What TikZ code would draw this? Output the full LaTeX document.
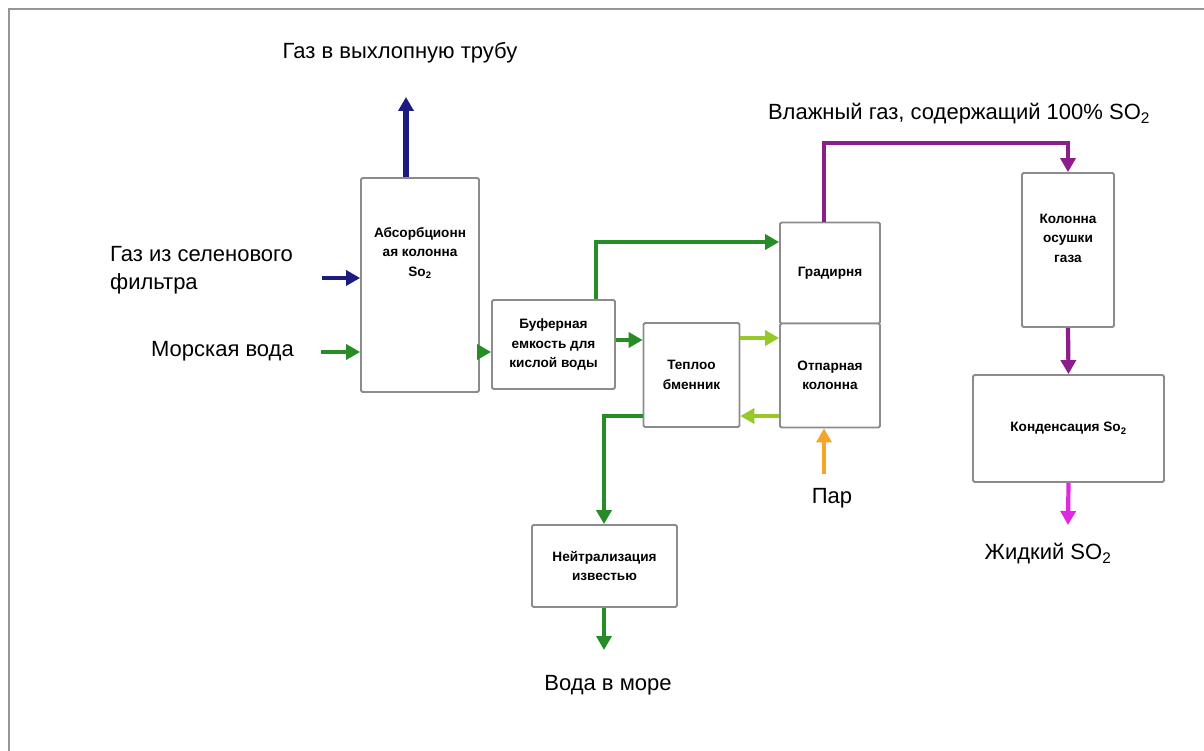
\documentclass[tikz,border=0pt]{standalone}
\usepackage{fontspec}
\setmainfont{Liberation Sans}
\usetikzlibrary{arrows.meta}
\definecolor{boxgray}{RGB}{140,140,140}
\definecolor{framegray}{RGB}{150,150,150}
\definecolor{navyc}{RGB}{28,28,128}
\definecolor{dgreen}{RGB}{38,140,38}
\definecolor{lgreen}{RGB}{150,200,40}
\definecolor{purp}{RGB}{140,30,140}
\definecolor{magc}{RGB}{225,40,225}
\definecolor{orangec}{RGB}{245,165,40}
\tikzset{
  box/.style={draw=boxgray, line width=1.8pt, rounded corners=1.5pt, fill=white, inner sep=0pt},
  boxtext/.style={font=\bfseries\fontsize{13.6}{19.5}\selectfont, align=center, inner sep=0pt},
  lbl/.style={font=\fontsize{22}{28}\selectfont, inner sep=0pt},
  flow/.style={line width=4.2pt, -{Triangle[length=14pt,width=15pt]}},
}
\begin{document}
\begin{tikzpicture}[x=1pt,y=-1pt]
\useasboundingbox (0,0) rectangle (1204,751);
\fill[white] (0,0) rectangle (1204,751);
\draw[framegray, line width=2pt] (9,751) -- (9,9) -- (1204,9);

% boxes
\node[box, minimum width=118pt, minimum height=214pt] (abs) at (420,285) {};
\node[boxtext] (abstxt) at (420,253) {Абсорбционн\\ая колонна\\So\textsubscript{2}};
\node[box, minimum width=123pt, minimum height=89pt, boxtext] (buf) at (553.5,344.5) {Буферная\\емкость для\\кислой воды};
\node[box, minimum width=96pt, minimum height=104pt, boxtext] (hx) at (691.5,375) {Теплоо\\бменник};
\node[box, minimum width=100pt, minimum height=101pt, boxtext] (grad) at (830,273) {Градирня};
\node[box, minimum width=100pt, minimum height=104pt, boxtext] (strip) at (830,375.5) {Отпарная\\колонна};
\node[box, minimum width=92pt, minimum height=154pt] (dry) at (1068,250) {};
\node[boxtext] (drytxt) at (1068,238) {Колонна\\осушки\\газа};
\node[box, minimum width=191pt, minimum height=107pt, boxtext] (cond) at (1068.5,428.5) {Конденсация So\textsubscript{2}};
\node[box, minimum width=145pt, minimum height=82pt, boxtext] (neut) at (604.5,566) {Нейтрализация\\известью};

% labels
\node[lbl] (exhlbl) at (400,53) {Газ в выхлопную трубу};
\node[lbl] (wetlbl) at (959,114) {Влажный газ, содержащий 100\% SO\textsubscript{2}};
\node[lbl, anchor=west, align=left, font=\fontsize{22}{28}\selectfont] (gaslbl) at (110,270) {Газ из селенового\\фильтра};
\node[lbl, anchor=east] (sealbl) at (294,351) {Морская вода};
\node[lbl] (steamlbl) at (832,498) {Пар};
\node[lbl] (liqlbl) at (1048,554) {Жидкий SO\textsubscript{2}};
\node[lbl] (seaoutlbl) at (608,685) {Вода в море};

% free ends
\coordinate (exh) at (406,97);
\coordinate (gasin) at (322,278);
\coordinate (seain) at (321,352);
\coordinate (steam) at (824,474);
\coordinate (seaout) at (604,650);
\coordinate (liq) at (1068,525);

% connectors
\draw[flow, navyc, line width=5.5pt] (406,0 |- abs.north) -- (exh);
\draw[flow, navyc] (gasin) -- (abs.west |- gasin);
\draw[flow, dgreen] (seain) -- (abs.west |- seain);
\draw[flow, dgreen] (abs.east |- seain) -- (buf.west |- seain);
\draw[flow, dgreen] (596,0 |- buf.north) |- (grad.west |- 0,242);
\draw[flow, dgreen] (buf.east |- 0,340) -- (hx.west |- 0,340);
\draw[flow, lgreen] (hx.east |- 0,338) -- (strip.west |- 0,338);
\draw[flow, lgreen] (strip.west |- 0,416) -- (hx.east |- 0,416);
\draw[flow, dgreen] (hx.west |- 0,416) -| (604,0 |- neut.north);
\draw[flow, dgreen] (604,0 |- neut.south) -- (seaout);
\draw[flow, orangec] (steam) -- (824,0 |- strip.south);
\draw[flow, purp] (824,0 |- grad.north) |- (1068,143) -- (dry.north);
\draw[flow, purp] (dry.south) -- (cond.north);
\draw[flow, magc] (cond.south) -- (liq);
\end{tikzpicture}
\end{document}
